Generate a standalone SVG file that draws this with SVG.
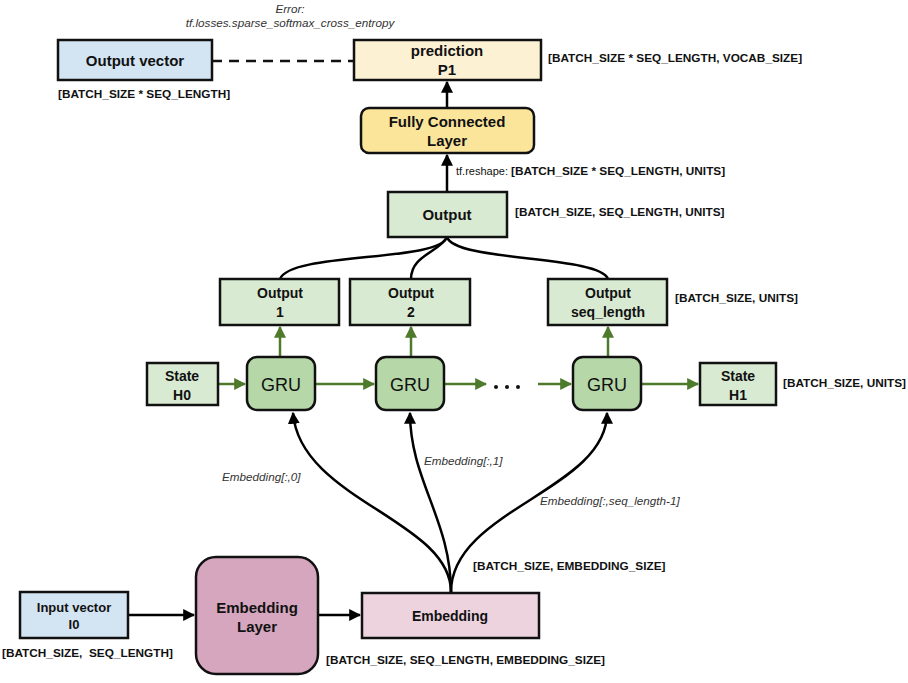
<svg xmlns="http://www.w3.org/2000/svg" width="908" height="683" viewBox="0 0 908 683">
<defs>
<style>
text{font-family:"Liberation Sans",Arial,sans-serif;fill:#111}
.b{font-weight:bold}
.t15{font-size:15px;font-weight:bold;text-anchor:middle}
.t14{font-size:14px;font-weight:bold;text-anchor:middle}
.dim{font-size:11.8px;font-weight:bold}
.it{font-size:11.7px;font-style:italic;fill:#333}
.box{stroke:#111;stroke-width:2.5}
.blk{fill:none;stroke:#000;stroke-width:2.5}
.grn{fill:none;stroke:#4e7a2c;stroke-width:2.5}
</style>
<marker id="ab" viewBox="0 0 10 10" refX="9" refY="5" markerWidth="4.8" markerHeight="4.8" orient="auto"><path d="M0,0L10,5L0,10z" fill="#000"/></marker>
<marker id="ag" viewBox="0 0 10 10" refX="9" refY="5" markerWidth="4.8" markerHeight="4.8" orient="auto"><path d="M0,0L10,5L0,10z" fill="#4e7a2c"/></marker>
</defs>
<rect width="908" height="683" fill="#fff"/>

<g id="connectors">
<line x1="212" y1="61" x2="354" y2="61" stroke="#111" stroke-width="2.5" stroke-dasharray="10,7"/>
<line class="blk" x1="447" y1="108" x2="447" y2="82" marker-end="url(#ab)"/>
<line class="blk" x1="447" y1="192" x2="447" y2="155" marker-end="url(#ab)"/>
<path class="blk" d="M447,237 C440,262 290,252 280,279"/>
<path class="blk" d="M447,237 C440,252 411,255 411,279"/>
<path class="blk" d="M447,237 C455,262 600,255 608,279"/>
<line class="grn" x1="280" y1="357" x2="280" y2="327" marker-end="url(#ag)"/>
<line class="grn" x1="411" y1="357" x2="411" y2="327" marker-end="url(#ag)"/>
<line class="grn" x1="608" y1="357" x2="608" y2="327" marker-end="url(#ag)"/>
<line class="grn" x1="218" y1="384" x2="245" y2="384" marker-end="url(#ag)"/>
<line class="grn" x1="315" y1="384" x2="374" y2="384" marker-end="url(#ag)"/>
<line class="grn" x1="444" y1="384" x2="486" y2="384" marker-end="url(#ag)"/>
<line class="grn" x1="538" y1="384" x2="571" y2="384" marker-end="url(#ag)"/>
<line class="grn" x1="641" y1="384" x2="698" y2="384" marker-end="url(#ag)"/>
<path class="blk" d="M451,592 C451,520 300,500 293,413" marker-end="url(#ab)"/>
<path class="blk" d="M451,592 C451,520 410,480 410,413" marker-end="url(#ab)"/>
<path class="blk" d="M451,592 C451,510 607,490 607,413" marker-end="url(#ab)"/>
<line class="blk" x1="128" y1="615" x2="194" y2="615" marker-end="url(#ab)"/>
<line class="blk" x1="318" y1="615" x2="360" y2="615" marker-end="url(#ab)"/>
</g>

<g id="output-vector">
<rect class="box" x="58" y="40" width="154" height="40" fill="#d3e4f3"/>
<text class="t15" x="135" y="66">Output vector</text>
<text class="dim" x="58" y="98">[BATCH_SIZE * SEQ_LENGTH]</text>
</g>
<g id="error-label">
<text class="it" x="290" y="13" text-anchor="middle">Error:</text>
<text class="it" x="290" y="27" text-anchor="middle">tf.losses.sparse_softmax_cross_entropy</text>
</g>
<g id="prediction">
<rect class="box" x="354" y="40" width="187" height="40" fill="#fdf1d4"/>
<text class="t15" x="447" y="56">prediction</text>
<text class="t15" x="447" y="75">P1</text>
<text class="dim" x="548" y="62">[BATCH_SIZE * SEQ_LENGTH, VOCAB_SIZE]</text>
</g>
<g id="fc-layer">
<rect class="box" x="361" y="108" width="173" height="45" rx="8" fill="#fbe59b"/>
<text class="t15" x="447" y="127">Fully Connected</text>
<text class="t15" x="447" y="146">Layer</text>
</g>
<g id="reshape-label">
<text x="456" y="175" font-size="11px">tf.reshape: <tspan class="b" font-size="11.8px">[BATCH_SIZE * SEQ_LENGTH, UNITS]</tspan></text>
</g>
<g id="output">
<rect class="box" x="388" y="192" width="119" height="45" fill="#d9ead3"/>
<text class="t15" x="447" y="220">Output</text>
<text class="dim" x="515" y="216">[BATCH_SIZE, SEQ_LENGTH, UNITS]</text>
</g>
<g id="output-1">
<rect class="box" x="220" y="279" width="119" height="46" fill="#d9ead3"/>
<text class="t14" x="280" y="298">Output</text>
<text class="t14" x="280" y="317">1</text>
</g>
<g id="output-2">
<rect class="box" x="350" y="279" width="120" height="46" fill="#d9ead3"/>
<text class="t14" x="411" y="298">Output</text>
<text class="t14" x="411" y="317">2</text>
</g>
<g id="output-seq">
<rect class="box" x="548" y="279" width="119" height="46" fill="#d9ead3"/>
<text class="t14" x="608" y="298">Output</text>
<text class="t14" x="608" y="317">seq_length</text>
<text class="dim" x="675" y="302">[BATCH_SIZE, UNITS]</text>
</g>
<g id="state-h0">
<rect class="box" x="147" y="363" width="71" height="42" fill="#d9ead3"/>
<text class="t14" x="182" y="381">State</text>
<text class="t14" x="182" y="400">H0</text>
</g>
<g id="gru-1">
<rect class="box" x="247" y="357" width="68" height="53" rx="10" fill="#b6d7a8"/>
<text x="281" y="391" font-size="18px" text-anchor="middle">GRU</text>
</g>
<g id="gru-2">
<rect class="box" x="376" y="357" width="68" height="53" rx="10" fill="#b6d7a8"/>
<text x="410" y="391" font-size="18px" text-anchor="middle">GRU</text>
</g>
<g id="dots">
<circle cx="496" cy="387" r="2" fill="#111"/>
<circle cx="507" cy="387" r="2" fill="#111"/>
<circle cx="518" cy="387" r="2" fill="#111"/>
</g>
<g id="gru-3">
<rect class="box" x="573" y="357" width="68" height="53" rx="10" fill="#b6d7a8"/>
<text x="607" y="391" font-size="18px" text-anchor="middle">GRU</text>
</g>
<g id="state-h1">
<rect class="box" x="700" y="363" width="76" height="42" fill="#d9ead3"/>
<text class="t14" x="738" y="381">State</text>
<text class="t14" x="738" y="400">H1</text>
<text class="dim" x="783" y="387">[BATCH_SIZE, UNITS]</text>
</g>
<g id="emb-labels">
<text class="it" x="222" y="481">Embedding[:,0]</text>
<text class="it" x="424" y="465">Embedding[:,1]</text>
<text class="it" x="540" y="505">Embedding[:,seq_length-1]</text>
<text class="dim" x="473" y="570">[BATCH_SIZE, EMBEDDING_SIZE]</text>
</g>
<g id="input-vector">
<rect class="box" x="20" y="592" width="108" height="46" fill="#d3e4f3"/>
<text x="74" y="612" font-size="13px" class="b" text-anchor="middle">Input vector</text>
<text x="74" y="629" font-size="13px" class="b" text-anchor="middle">I0</text>
<text class="dim" x="2" y="657" xml:space="preserve">[BATCH_SIZE,  SEQ_LENGTH]</text>
</g>
<g id="embedding-layer">
<rect class="box" x="196" y="557" width="122" height="117" rx="20" fill="#d5a6bd"/>
<text class="t15" x="257" y="613" fill="#3a1a28">Embedding</text>
<text class="t15" x="257" y="632" fill="#3a1a28">Layer</text>
</g>
<g id="embedding">
<rect class="box" x="362" y="593" width="177" height="45" fill="#ecd3de"/>
<text x="450" y="621" font-size="14px" class="b" text-anchor="middle">Embedding</text>
<text class="dim" x="326" y="664">[BATCH_SIZE, SEQ_LENGTH, EMBEDDING_SIZE]</text>
</g>
</svg>
